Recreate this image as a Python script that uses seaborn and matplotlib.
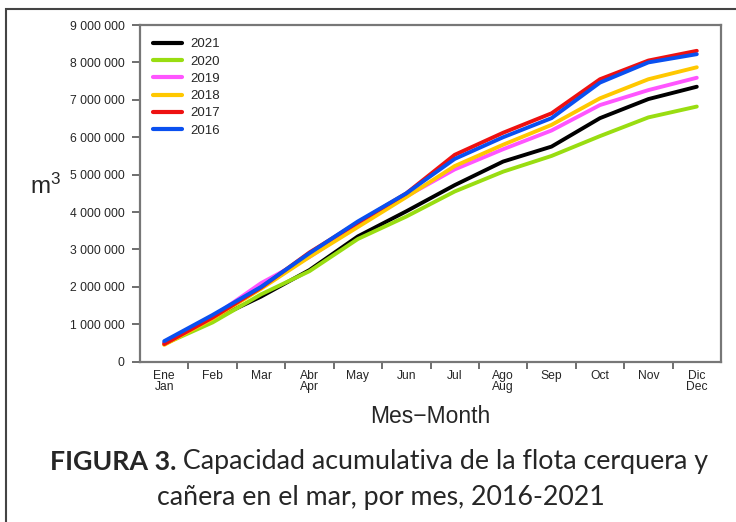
import numpy as np
import pandas as pd
import seaborn as sns
import matplotlib.pyplot as plt
from matplotlib.patches import Rectangle

# Datos (millones de m3)
meses = ['Ene\nJan', 'Feb', 'Mar', 'Abr\nApr', 'May', 'Jun', 'Jul',
         'Ago\nAug', 'Sep', 'Oct', 'Nov', 'Dic\nDec']
anios = ['2021', '2020', '2019', '2018', '2017', '2016']
colores = ['#000000', '#99dd11', '#ff55ff', '#ffc800', '#ee1111', '#0a50f0']

v2021 = [0.50, 1.12, 1.74, 2.45, 3.35, 4.02, 4.72, 5.35, 5.75, 6.51, 7.02, 7.35]
v2020 = [0.47, 1.05, 1.80, 2.42, 3.28, 3.88, 4.55, 5.08, 5.50, 6.03, 6.53, 6.82]
v2019 = [0.50, 1.20, 2.10, 2.80, 3.65, 4.42, 5.14, 5.68, 6.18, 6.86, 7.26, 7.59]
v2018 = [0.45, 1.15, 1.95, 2.80, 3.60, 4.40, 5.23, 5.80, 6.33, 7.04, 7.55, 7.87]
v2017 = [0.47, 1.18, 1.98, 2.92, 3.72, 4.50, 5.53, 6.12, 6.64, 7.55, 8.05, 8.31]
v2016 = [0.55, 1.25, 2.00, 2.90, 3.75, 4.50, 5.42, 6.00, 6.51, 7.46, 8.00, 8.22]

valores = [v2021, v2020, v2019, v2018, v2017, v2016]

filas = []
for anio, serie in zip(anios, valores):
    for i, v in enumerate(serie):
        filas.append({'mes': i, 'anio': anio, 'm3': v * 1e6})
df = pd.DataFrame(filas)

sns.set_style('white')
plt.rcParams['font.family'] = ['Liberation Sans', 'DejaVu Sans']
plt.rcParams['mathtext.default'] = 'regular'

fig = plt.figure(figsize=(7.36, 5.22), dpi=100)
ax = fig.add_axes([140 / 736, 1 - 361.7 / 522, (721 - 140) / 736, (361.7 - 25) / 522])

sns.lineplot(data=df, x='mes', y='m3', hue='anio', hue_order=anios,
             palette=dict(zip(anios, colores)), linewidth=2.8, ax=ax)

ax.set_xlim(-0.5, 11.5)
ax.set_ylim(0, 9e6)
ax.set_yticks(np.arange(0, 9.1e6, 1e6))
ax.set_yticklabels(['0'] + [f'{k} 000 000' for k in range(1, 10)], fontsize=8.7)
ax.set_xticks(range(12))
ax.set_xticklabels(meses, fontsize=8.7, linespacing=0.85)
ax.set_xticks(np.arange(0.5, 11, 1), minor=True)
ax.tick_params(axis='x', which='major', length=0, pad=6)
ax.tick_params(axis='x', which='minor', length=5, width=1.2, color='#555555', bottom=True)
ax.tick_params(axis='y', length=6, width=1.2, color='#555555', left=True, pad=5)
for s in ax.spines.values():
    s.set_color('#777777')
    s.set_linewidth(1.6)

ax.set_xlabel('Mes\u2212Month', fontsize=16.5, labelpad=9)
ax.set_ylabel('')
fig.text(30 / 736, 1 - 186 / 522, 'm$^3$', fontsize=17.5, va='center', ha='left')

ax.legend(loc='upper left', frameon=False, fontsize=9.5, handlelength=2.2,
          labelspacing=0.38, borderaxespad=0.6, handletextpad=0.6,
          bbox_to_anchor=(0.0, 1.0))
for ln in ax.get_legend().get_lines():
    ln.set_linewidth(3)

# marco exterior
fig.patches.append(Rectangle((6 / 736, -0.1), 1.2, 1 - 9 / 522 + 0.1,
                             transform=fig.transFigure, fill=False,
                             edgecolor='#444444', linewidth=1.5))

# pie de figura
fig.canvas.draw()
r = fig.canvas.get_renderer()
W = fig.bbox.width
tam = 19.3
y1 = 1 - 462 / 522
t1 = fig.text(0, y1, 'FIGURA 3.', fontsize=tam, weight='bold', family='Lato', va='center')
t2 = fig.text(0, y1, ' Capacidad acumulativa de la flota cerquera y', fontsize=tam,
              family='Lato', va='center')
w1 = t1.get_window_extent(r).width
w2 = t2.get_window_extent(r).width
x0 = 379 - (w1 + w2) / 2
t1.set_x(x0 / W)
t2.set_x((x0 + w1) / W)
fig.text(381 / W, 1 - 498 / 522, 'cañera en el mar, por mes, 2016-2021', fontsize=tam,
         family='Lato', ha='center', va='center')

fig.savefig('out.png', dpi=100)
